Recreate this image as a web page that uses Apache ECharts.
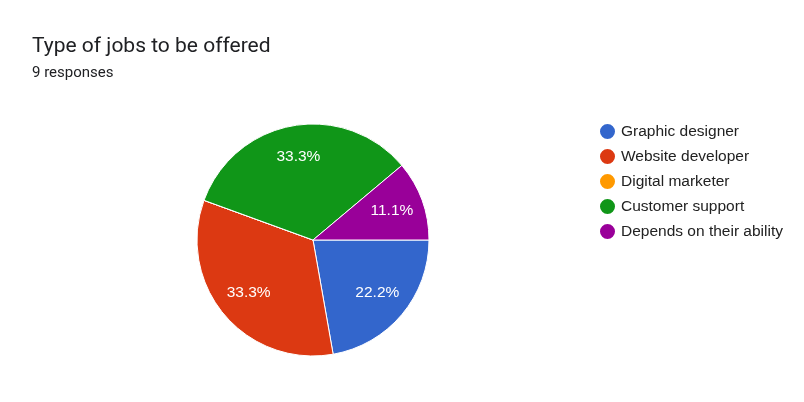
<!DOCTYPE html>
<html><head><meta charset="utf-8">
<script src="https://cdn.jsdelivr.net/npm/echarts@6/dist/echarts.min.js"></script>
<style>html,body{margin:0;padding:0;background:#fff}#c{width:804px;height:402px}</style>
</head><body><div id="c"></div>
<script>
const categories = ['Graphic designer','Website developer','Digital marketer','Customer support','Depends on their ability'];
const values = [2, 3, 0, 3, 1];
const colors = ['#3366cc','#dc3912','#ff9900','#109618','#990099'];
const titleText = 'Type of jobs to be offered';
const subText = '9 responses';

const total = values.reduce((a,b)=>a+b,0);
const data = categories.map((n,i)=>({name:n, value:values[i]}));
const chart = echarts.init(document.getElementById('c'));
chart.setOption({
  animation:false,
  color: colors,
  title:{
    text:titleText, subtext:subText, left:32, top:36, itemGap:9, padding:0,
    textStyle:{fontFamily:'Roboto', fontSize:21, fontWeight:'normal', color:'#202124'},
    subtextStyle:{fontFamily:'Roboto', fontSize:15, color:'#202124'}
  },
  legend:{
    orient:'vertical', left:598, top:122, padding:0, icon:'circle', itemWidth:17, itemHeight:17, itemGap:6,
    data: categories,
    textStyle:{fontFamily:'Arial', fontSize:15.5, lineHeight:17, color:'#222'}
  },
  series:[
    {
      type:'pie', center:[313,240], radius:[0,116], startAngle:0, clockwise:true,
      data:data, label:{show:false}, labelLine:{show:false},
      itemStyle:{borderColor:'#fff', borderWidth:1}, emphasis:{disabled:true}
    },
    {
      type:'pie', center:[313,239], radius:[46,116], startAngle:0, clockwise:true, silent:true,
      legendHoverLink:false,
      data:data.map(d=>({name:d.name, value:d.value, itemStyle:{color:'rgba(0,0,0,0)'}})),
      itemStyle:{borderWidth:0},
      label:{show:true, position:'inside', fontFamily:'Arial', fontSize:15.5, color:'#fff',
        formatter:p=>p.value>0? (p.value/total*100).toFixed(1)+'%':''},
      labelLine:{show:false}, emphasis:{disabled:true}
    }
  ]
});
</script></body></html>
